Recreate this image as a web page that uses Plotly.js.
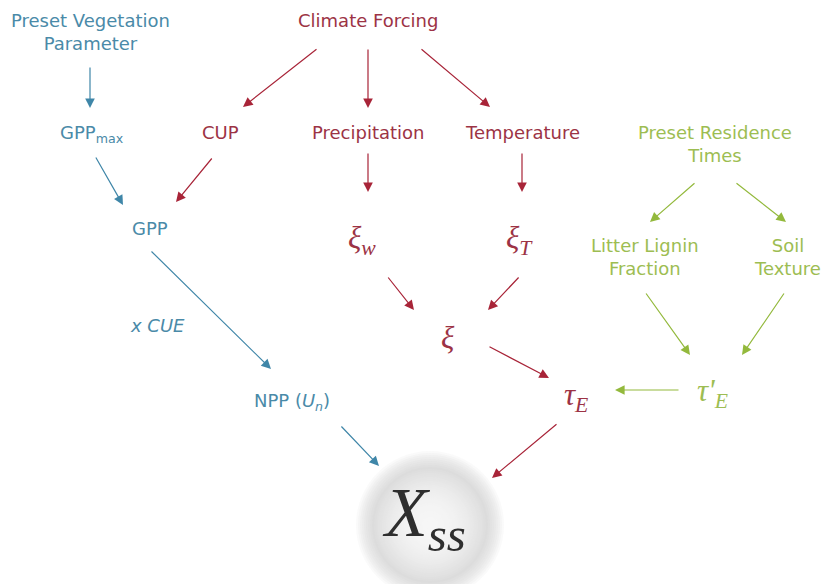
<!DOCTYPE html>
<html><head><meta charset="utf-8">
<script src="https://cdn.plot.ly/plotly-3.0.1.min.js"></script>
<style>html,body{margin:0;padding:0;background:#fff}#chart{width:825px;height:584px}</style>
</head><body><div id="chart"></div>
<script>
// ---- diagram content ----
const nodeIds = ["pvp","cf","gppmax","cup","prec","temp","prt","gpp","xiw","xit","llf","soil","xcue","npp","xi","te","tpe","xss"];
const nodeLabels = [
  "Preset Vegetation<br>Parameter", "Climate Forcing", "GPP<sub>max</sub>", "CUP",
  "Precipitation", "Temperature", "Preset Residence<br>Times", "GPP",
  "<i>ξ<sub>w</sub></i>", "<i>ξ<sub>T</sub></i>", "Litter Lignin<br>Fraction", "Soil<br>Texture",
  "<i>x CUE</i>", "NPP (<i>U<sub>n</sub></i>)", "<i>ξ</i>", "<i>τ<sub>E</sub></i>", "<i>τ'<sub>E</sub></i>", "<i>X<sub>ss</sub></i>"
];
const nodeGroup = ["veg","clim","veg","clim","clim","clim","res","veg","clim","clim","res","res","veg","veg","clim","clim","res","out"];
const edgeFrom = ["pvp","cf","cf","cf","gppmax","cup","prec","temp","prt","prt","gpp","xiw","xit","xi","llf","soil","tpe","npp","te"];
const edgeTo   = ["gppmax","cup","prec","temp","gpp","gpp","xiw","xit","llf","soil","npp","xi","xi","te","tpe","tpe","te","xss","xss"];
const edgeGroup= ["veg","clim","clim","clim","veg","clim","clim","clim","res","res","veg","clim","clim","clim","res","res","res","veg","clim"];

// ---- placement & style (pixel coords) ----
const pos = {
  pvp:[90,32], cf:[368,20], gppmax:[92,134], cup:[220,132], prec:[368,132], temp:[522,132],
  prt:[715,144], gpp:[150,228], xiw:[362,240], xit:[519,240], llf:[645,257], soil:[787,257],
  xcue:[157,325], npp:[292,402], xi:[448,337], te:[576,397], tpe:[712,393], xss:[424,518]
};
const edgePts = [
  [[90,66],[90,108]], [[318,48],[243,107]], [[368,48],[368,108]], [[420,48],[490,107]],
  [[95,156],[123,205]], [[213,157],[176,202]], [[368,152],[368,192]], [[522,152],[522,192]],
  [[696,182],[650,222]], [[735,182],[786,222]], [[150,250],[271,369]], [[387,276],[414,310]],
  [[520,276],[488,310]], [[488,346],[549,378]], [[645,292],[690,355]], [[785,292],[742,355]],
  [[680,390],[615,390]], [[340,425],[379,466]], [[558,423],[492,478]]
];
const colors = {veg:"#4a8aa8", clim:"#9c3345", res:"#9dbd52", out:"#2e2e2e"};
const headColors = {veg:"#3f86a8", clim:"#a82438", res:"#93b93c", out:"#333"};
const fontSize = {default:18, greek:31, xss:70};

const annotations = [];
nodeIds.forEach((id,i)=>{
  const g = nodeGroup[i];
  let size = fontSize.default, family = "DejaVu Sans, Arial, sans-serif";
  if (["xiw","xit","xi","te","tpe"].includes(id)) { size = fontSize.greek; family = "Liberation Serif, Times New Roman, serif"; }
  if (id==="xss") { size = fontSize.xss; family = "Liberation Serif, Times New Roman, serif"; }
  annotations.push({
    x: pos[id][0], y: pos[id][1], xref:"x", yref:"y", text: nodeLabels[i], showarrow:false,
    font:{size:size, family:family, color: colors[g]}, xanchor:"center", yanchor:"middle"
  });
});
edgeFrom.forEach((f,i)=>{
  const g = edgeGroup[i];
  const [t,h] = edgePts[i];
  annotations.push({
    x:h[0], y:h[1], ax:t[0], ay:t[1], xref:"x", yref:"y", axref:"x", ayref:"y",
    text:"", showarrow:true, arrowhead:2, arrowsize:1.6, arrowwidth:1.2,
    arrowcolor: headColors[g], standoff:0, startstandoff:0
  });
});

// soft glow disc behind X_ss
const shapes = [];
const cx = 430, cy = 525;
for (let r = 74; r >= 57; r -= 2) {
  shapes.push({type:"circle", xref:"x", yref:"y", x0:cx-r, x1:cx+r, y0:cy-r, y1:cy+r, fillcolor:"rgba(205,205,205,0.09)", line:{width:0}, layer:"below"});
}
for (let r = 56; r >= 2; r -= 2) {
  const t = r/56;
  const v = Math.round(246 - (246-222)*Math.pow(t,2.2));
  shapes.push({type:"circle", xref:"x", yref:"y", x0:cx-r, x1:cx+r, y0:cy-r, y1:cy+r, fillcolor:`rgb(${v},${v},${v})`, line:{width:0}, layer:"below"});
}

const layout = {
  width:825, height:584, margin:{l:0,r:0,t:0,b:0},
  paper_bgcolor:"#fff", plot_bgcolor:"#fff",
  xaxis:{range:[0,825], visible:false, fixedrange:true},
  yaxis:{range:[584,0], visible:false, fixedrange:true},
  showlegend:false, annotations:annotations, shapes:shapes
};
Plotly.newPlot("chart", [{x:[],y:[],type:"scatter",mode:"markers"}], layout, {staticPlot:true});
</script></body></html>
